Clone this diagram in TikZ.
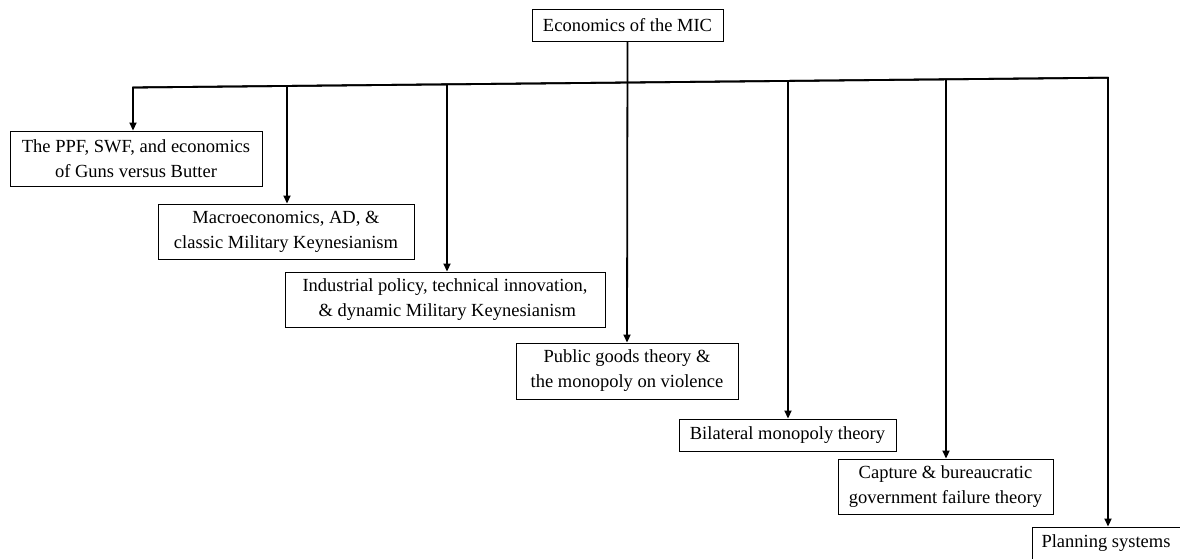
\documentclass[tikz,border=0pt]{standalone}
\usepackage{fontspec}
\setmainfont{Liberation Serif}
\usetikzlibrary{arrows.meta}
\begin{document}
\begin{tikzpicture}[x=1pt,y=-1pt,
  box/.style={draw=black,line width=0.9pt,inner sep=0pt,align=center,
    font=\fontsize{18.5}{25}\selectfont},
  conn/.style={line width=1.8pt,-{Triangle[length=8pt,width=7pt]}},
  bus/.style={line width=1.8pt}]
\useasboundingbox (0,0) rectangle (1180,559);
\node[box,minimum width=191pt,minimum height=32pt] (top) at (627.5,25) {Economics of the MIC};
\node[box,minimum width=252pt,minimum height=55pt] (ppf) at (136,158.5) {The PPF, SWF, and economics\\of Guns versus Butter};
\node[box,minimum width=256pt,minimum height=55pt] (mac) at (286,231.5) {Macroeconomics, AD, \&\\classic Military Keynesianism};
\node[box,minimum width=320pt,minimum height=55pt] (ind) at (445,299.5) {Industrial policy, technical innovation,\\\ \& dynamic Military Keynesianism};
\node[box,minimum width=222pt,minimum height=56pt] (pub) at (627,371) {Public goods theory \&\\the monopoly on violence};
\node[box,minimum width=217pt,minimum height=32pt] (bil) at (787.5,435) {Bilateral monopoly theory};
\node[box,minimum width=215pt,minimum height=55pt] (cap) at (945.5,486.5) {Capture \& bureaucratic\\government failure theory};
\node[box,minimum width=148pt,minimum height=32pt] (pln) at (1106,543) {Planning systems};
\coordinate (b1) at (133,87.5);
\coordinate (b2) at (287,85.95);
\coordinate (b3) at (447,84.3);
\coordinate (b5) at (788,80.9);
\coordinate (b6) at (946,79.3);
\coordinate (b7) at (1108,77.7);
\draw[conn] (b7) -- (b1) -- (b1 |- ppf.north);
\draw[conn] (b1) -- (b7) -- (b7 |- pln.north);
\draw[conn] (b2) -- (b2 |- mac.north);
\draw[conn] (b3) -- (b3 |- ind.north);
\draw[conn] (top.south) -- (pub.north);
\draw[conn] (b5) -- (b5 |- bil.north);
\draw[conn] (b6) -- (b6 |- cap.north);
\end{tikzpicture}
\end{document}
